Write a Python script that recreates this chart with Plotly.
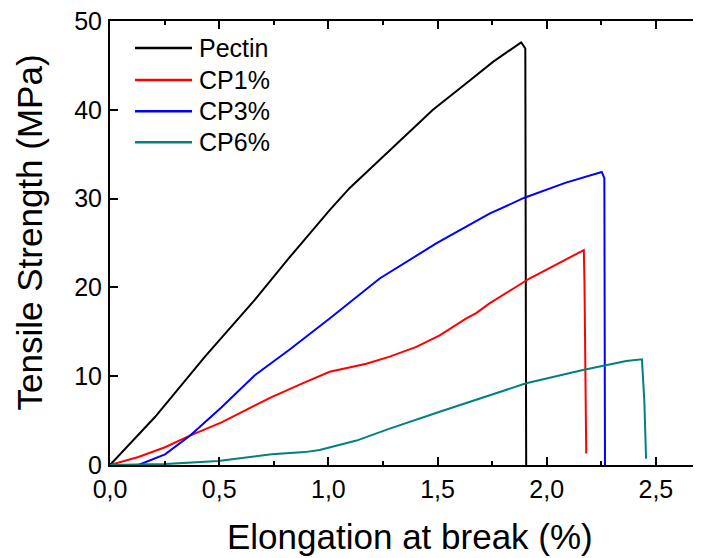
import plotly.graph_objects as go

# ---- data ----
pectin_x = [0, 0.206, 0.435, 0.663, 0.823, 1.006, 1.098, 1.266, 1.479, 1.632, 1.754, 1.883, 1.902, 1.906]
pectin_y = [0, 5.4, 12.2, 18.6, 23.4, 28.7, 31.2, 35.1, 40.0, 43.0, 45.4, 47.6, 46.9, 0]

cp1_x = [0, 0.13, 0.252, 0.366, 0.511, 0.74, 0.892, 1.006, 1.174, 1.281, 1.403, 1.51, 1.632, 1.677, 1.738, 1.921, 2.17, 2.173, 2.181]
cp1_y = [0, 0.9, 2.0, 3.3, 4.8, 7.65, 9.3, 10.5, 11.4, 12.2, 13.3, 14.6, 16.5, 17.1, 18.2, 21.0, 24.2, 20.5, 1.3]

cp3_x = [0, 0.13, 0.252, 0.366, 0.511, 0.663, 0.823, 1.006, 1.235, 1.494, 1.738, 1.898, 2.088, 2.252, 2.264, 2.267]
cp3_y = [0, 0, 1.2, 3.3, 6.5, 10.1, 13.0, 16.5, 21.0, 24.95, 28.3, 30.1, 31.8, 33.0, 32.3, 0]

cp6_x = [0, 0.25, 0.496, 0.587, 0.74, 0.892, 0.96, 1.129, 1.281, 1.51, 1.738, 1.906, 2.166, 2.364, 2.436, 2.447, 2.455]
cp6_y = [0, 0.1, 0.45, 0.7, 1.2, 1.45, 1.7, 2.75, 4.1, 6.0, 7.85, 9.2, 10.7, 11.7, 11.9, 7.3, 0.7]

series_names = ["Pectin", "CP1%", "CP3%", "CP6%"]
series_colors = ["#000000", "#FF0000", "#0000FF", "#008080"]
series_x = [pectin_x, cp1_x, cp3_x, cp6_x]
series_y = [pectin_y, cp1_y, cp3_y, cp6_y]

x_ticks = [0, 0.5, 1.0, 1.5, 2.0, 2.5]
x_ticktext = ["0,0", "0,5", "1,0", "1,5", "2,0", "2,5"]
y_ticks = [0, 10, 20, 30, 40, 50]

x_title = "Elongation at break (%)"
y_title = "Tensile Strength (MPa)"

FONT = "Liberation Sans, Arial, sans-serif"

fig = go.Figure()
for name, color, xs, ys in zip(series_names, series_colors, series_x, series_y):
    fig.add_trace(go.Scatter(x=xs, y=ys, mode="lines", name=name,
                             line=dict(color=color, width=2)))

# legend drawn inside the plot area (paper coordinates), one row per series
leg_x0, leg_x1, leg_tx = 0.0429, 0.1407, 0.1500
leg_rows = [0.939, 0.867, 0.797, 0.727]
for name, color, ly in zip(series_names, series_colors, leg_rows):
    fig.add_shape(type="line", xref="paper", yref="paper",
                  x0=leg_x0, x1=leg_x1, y0=ly, y1=ly,
                  line=dict(color=color, width=2.5))
    fig.add_annotation(xref="paper", yref="paper", x=leg_tx, y=ly,
                       xanchor="left", yanchor="middle", text=name, showarrow=False,
                       font=dict(family=FONT, size=25, color="black"))

# axis titles
fig.add_annotation(xref="paper", yref="paper", x=0.5146, y=-0.160,
                   xanchor="center", yanchor="middle", text=x_title, showarrow=False,
                   font=dict(family=FONT, size=35, color="black"))
fig.add_annotation(xref="paper", yref="paper", x=-0.1374, y=0.5236,
                   xanchor="center", yanchor="middle", text=y_title, showarrow=False,
                   textangle=-90, font=dict(family=FONT, size=35, color="black"))

# the page body adds an 8px offset, so the figure is sized/margined to compensate
fig.update_layout(
    width=685, height=550,
    margin=dict(l=102, r=0, t=13, b=93),
    paper_bgcolor="white", plot_bgcolor="white",
    font=dict(family=FONT, color="black", size=25),
    showlegend=False,
)

fig.update_xaxes(
    range=[0, 2.67], tickvals=x_ticks, ticktext=x_ticktext, automargin=False,
    showline=True, linecolor="black", linewidth=2, mirror="ticks",
    ticks="inside", ticklen=8, tickwidth=1.5, tickcolor="black",
    minor=dict(dtick=0.25, ticks="inside", ticklen=4, tickwidth=1.5, tickcolor="black", showgrid=False),
    showgrid=False, zeroline=False,
    ticklabelstandoff=1, ticklabeloverflow="allow",
    tickfont=dict(family=FONT, size=25, color="black"),
)
fig.update_yaxes(
    range=[0, 50], tickvals=y_ticks, automargin=False,
    showline=True, linecolor="black", linewidth=2,
    ticks="inside", ticklen=8, tickwidth=1.5, tickcolor="black",
    showgrid=False, zeroline=False,
    ticklabelstandoff=1, ticklabeloverflow="allow",
    tickfont=dict(family=FONT, size=25, color="black"),
)

fig.write_html("out.html")
